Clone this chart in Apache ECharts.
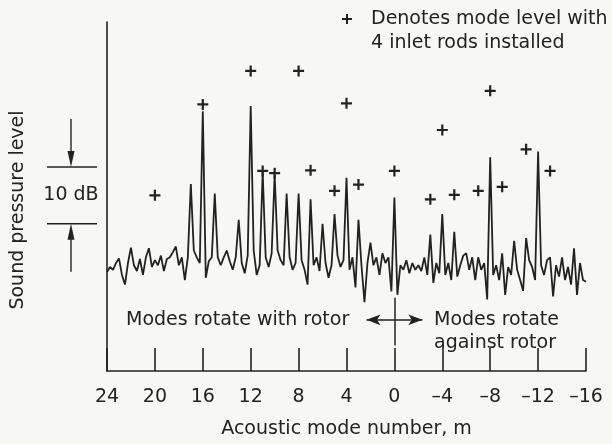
<!DOCTYPE html>
<html><head><meta charset="utf-8">
<script src="https://cdn.jsdelivr.net/npm/echarts@6/dist/echarts.min.js"></script>
<style>html,body{margin:0;padding:0;background:#f7f7f5}#c{width:612px;height:444px}</style>
</head><body><div id="c"></div><script>
// Sampling grid of the measured spectrum (acoustic mode number m)
const modeStart = 24, modeStep = 0.25;
// Sound pressure level (dB, arbitrary reference), m = 24 ... -16
const spectrumLevels = [
  17.4, 18.3, 17.8, 19.0,  19.8, 16.9, 15.2, 19.0,  21.7, 18.6, 17.6, 19.7,  16.9, 20.0, 21.6, 18.3,
  19.5, 18.6, 20.3, 17.6,  19.7, 20.0, 20.9, 21.9,  18.6, 20.0, 16.0, 20.0,  32.9, 21.2, 20.0, 19.0,
  45.7, 16.4, 19.3, 20.0,  31.2, 20.0, 18.6, 20.0,  21.2, 19.3, 17.8, 20.0,  26.6, 19.0, 17.2, 20.3,
  46.6, 21.2, 16.9, 18.6,  35.0, 20.0, 18.3, 20.7,  34.5, 21.2, 19.5, 18.6,  31.2, 20.0, 17.8, 19.0,
  31.2, 19.5, 17.8, 15.2,  30.2, 18.6, 20.0, 17.6,  25.9, 19.0, 16.4, 18.6,  27.6, 20.3, 18.3, 19.5,
  34.0, 17.8, 20.0, 14.7,  26.6, 18.6, 12.1, 19.0,  22.6, 18.6, 20.0, 16.9,  20.7, 19.0, 20.0, 14.0,
  30.5, 13.4, 18.6, 17.8,  19.5, 17.2, 19.0, 17.8,  18.6, 17.6, 20.0, 16.9,  24.0, 15.5, 19.0, 17.2,
  27.6, 16.9, 19.0, 16.0,  24.5, 16.6, 18.6, 20.3,  20.7, 17.8, 20.0, 16.0,  20.0, 17.8, 19.0, 12.6,
  37.6, 16.9, 18.6, 16.0,  20.7, 13.4, 18.3, 16.9,  22.9, 17.8, 16.0, 14.1,  23.4, 19.5, 18.3, 16.0,
  38.6, 18.6, 16.9, 19.5,  20.0, 13.1, 18.6, 16.6,  20.0, 16.0, 18.3, 15.2,  21.6, 13.4, 19.0, 16.0,
  15.7
];
// Mode levels with 4 inlet rods installed
const rodModes  = [20, 16, 12, 11, 10, 8, 7, 5, 4, 3, 0, -3, -4, -5, -7, -8, -9, -11, -13];
const rodLevels = [30.9, 46.9, 52.8, 35.2, 34.8, 52.8, 35.3, 31.7, 47.1, 32.8, 35.2, 30.2, 42.4, 31.0, 31.7, 49.3, 32.4, 39.0, 35.2];
// Axis
const modeMin = -16, modeMax = 24, modeTickStep = 4;
const levelMin = 0, levelMax = 61.4;
const scaleBar = [25.9, 35.9]; // the 10 dB scale bar

const ink = '#222222';
const font = 'DejaVu Sans';
const spectrum = spectrumLevels.map((v, i) => [modeStart - i * modeStep, v]);
const rods = rodModes.map((m, i) => [m, rodLevels[i]]);
const plusPath = 'path://M4,0H6V4H10V6H6V10H4V6H0V4H4Z';

const chart = echarts.init(document.getElementById('c'), null, {renderer: 'canvas'});
chart.setOption({
  backgroundColor: '#f7f7f5',
  animation: false,
  textStyle: {fontFamily: font, color: ink},
  grid: {left: 107, right: 26, top: 22, bottom: 66},
  xAxis: {
    type: 'value', min: modeMin, max: modeMax, interval: modeTickStep, inverse: true,
    name: 'Acoustic mode number, m', nameLocation: 'middle', nameGap: 49,
    nameTextStyle: {fontFamily: font, fontSize: 19, color: ink},
    axisLine: {show: true, onZero: false, lineStyle: {color: ink, width: 1.6}},
    axisTick: {show: true, inside: true, length: 23, lineStyle: {color: ink, width: 1.6}},
    axisLabel: {margin: 17, fontFamily: font, fontSize: 19, color: ink,
      formatter: v => v < 0 ? '\u2013' + Math.abs(v) : String(v)},
    splitLine: {show: false}
  },
  yAxis: {
    type: 'value', min: levelMin, max: levelMax,
    axisLine: {show: true, onZero: false, lineStyle: {color: ink, width: 1.6}},
    axisTick: {show: false}, axisLabel: {show: false}, splitLine: {show: false}
  },
  series: [
    {
      type: 'line', data: spectrum, showSymbol: false, symbol: 'none',
      lineStyle: {color: ink, width: 1.8}, z: 3,
      markLine: {
        silent: true, symbol: ['none', 'none'], label: {show: false},
        lineStyle: {color: ink, width: 1.5, type: 'solid'},
        data: [
          [{coord: [0, 4.5]}, {coord: [0, 12.9]}],
          [{coord: [2.33, 9.0], symbol: 'arrow', symbolSize: [8, 14]},
           {coord: [-2.33, 9.0], symbol: 'arrow', symbolSize: [8, 14]}]
        ]
      }
    },
    {
      type: 'scatter', data: rods, symbol: plusPath, symbolSize: 11,
      itemStyle: {color: ink, opacity: 1}, z: 4
    }
  ]
});

const yPx = v => chart.convertToPixel({yAxisIndex: 0}, v);
const yTop = yPx(scaleBar[1]), yBot = yPx(scaleBar[0]);
const ax = 71, shaft = 48;
const txt = (x, y, s) => ({type: 'text', x: x, y: y,
  style: {text: s, fontFamily: font, fontSize: 19, fill: ink, textAlign: 'left', textVerticalAlign: 'middle'}});
chart.setOption({
  graphic: [
    // y axis title
    {type: 'text', x: 18, y: 210, rotation: Math.PI / 2,
      style: {text: 'Sound pressure level', fontFamily: font, fontSize: 19, fill: ink, textAlign: 'center', textVerticalAlign: 'middle'}},
    // 10 dB scale bar
    {type: 'line', shape: {x1: 47, y1: yTop, x2: 97, y2: yTop}, style: {stroke: ink, lineWidth: 1.4}},
    {type: 'line', shape: {x1: 47, y1: yBot, x2: 97, y2: yBot}, style: {stroke: ink, lineWidth: 1.4}},
    {type: 'line', shape: {x1: ax, y1: yTop - shaft, x2: ax, y2: yTop - 10}, style: {stroke: ink, lineWidth: 1.4}},
    {type: 'polygon', shape: {points: [[ax - 3.5, yTop - 16], [ax + 3.5, yTop - 16], [ax, yTop]]}, style: {fill: ink}},
    {type: 'line', shape: {x1: ax, y1: yBot + shaft, x2: ax, y2: yBot + 10}, style: {stroke: ink, lineWidth: 1.4}},
    {type: 'polygon', shape: {points: [[ax - 3.5, yBot + 16], [ax + 3.5, yBot + 16], [ax, yBot]]}, style: {fill: ink}},
    {type: 'text', x: 71, y: (yTop + yBot) / 2,
      style: {text: '10 dB', fontFamily: font, fontSize: 19, fill: ink, textAlign: 'center', textVerticalAlign: 'middle'}},
    // legend
    {type: 'rect', shape: {x: 342, y: 18, width: 10, height: 2}, style: {fill: ink}},
    {type: 'rect', shape: {x: 346, y: 14, width: 2, height: 10}, style: {fill: ink}},
    txt(371, 19, 'Denotes mode level with'),
    txt(371, 43, '4 inlet rods installed'),
    // direction annotations
    txt(126, 320, 'Modes rotate with rotor'),
    txt(434, 320, 'Modes rotate'),
    txt(434, 343, 'against rotor')
  ]
});
</script></body></html>
